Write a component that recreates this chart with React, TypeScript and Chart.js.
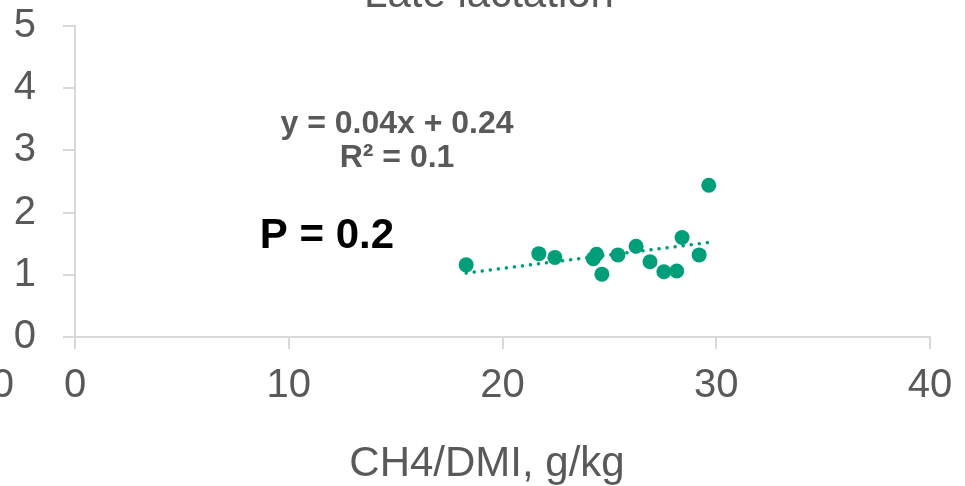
import React, { useEffect, useRef } from "react";
import { Chart, registerables } from "chart.js";

Chart.register(...registerables);

const xValues = [18.3, 21.7, 22.45, 24.25, 24.4, 24.65, 25.4, 26.25, 26.9, 27.55, 28.15, 28.4, 29.2, 29.65];
const yValues = [1.16, 1.34, 1.28, 1.26, 1.33, 1.01, 1.32, 1.46, 1.21, 1.05, 1.06, 1.60, 1.32, 2.44];
const trendX = [18.3, 29.65];
const trendY = [1.03, 1.52];
const xTicks = [0, 10, 20, 30, 40];
const yTicks = [0, 1, 2, 3, 4, 5];

const titleText = "Late lactation";
const xTitleText = "CH4/DMI, g/kg";
const equationText = "y = 0.04x + 0.24";
const r2Text = "R\u00B2 = 0.1";
const pText = "P = 0.2";
const strayText = "0";

const FONT = "'Liberation Sans', Arial, sans-serif";
const GRAY = "#595959";
const AXIS = "#D9D9D9";
const GREEN = "#009E79";

export default function App() {
  const ref = useRef<HTMLCanvasElement | null>(null);

  useEffect(() => {
    if (!ref.current) return;
    const textPlugin = {
      id: "texts",
      afterDraw(chart: any) {
        const ctx = chart.ctx;
        ctx.save();
        ctx.fillStyle = GRAY;
        ctx.textBaseline = "alphabetic";
        ctx.textAlign = "center";
        ctx.font = `42px ${FONT}`;
        ctx.fillText(titleText, 489, 7);
        ctx.font = `42px ${FONT}`;
        ctx.fillText(xTitleText, 487, 476);
        ctx.textAlign = "right";
        ctx.font = `40px ${FONT}`;
        ctx.textBaseline = "middle";
        ctx.fillText(strayText, 14, 386);
        ctx.textAlign = "center";
        ctx.font = `bold 32px ${FONT}`;
        ctx.fillText(equationText, 397, 124);
        ctx.fillText(r2Text, 397, 158);
        ctx.fillStyle = "#000000";
        ctx.font = `bold 42px ${FONT}`;
        ctx.fillText(pText, 327, 236);
        ctx.restore();
      },
    };

    const chart = new Chart(ref.current, {
      type: "scatter",
      data: {
        datasets: [
          {
            type: "scatter",
            data: xValues.map((x, i) => ({ x, y: yValues[i] })),
            backgroundColor: GREEN,
            borderWidth: 0,
            pointRadius: 7.5,
            order: 1,
          },
          {
            type: "line",
            data: trendX.map((x, i) => ({ x, y: trendY[i] })),
            borderColor: GREEN,
            borderWidth: 3.5,
            borderDash: [0.1, 8],
            borderCapStyle: "round",
            pointRadius: 0,
            fill: false,
            order: 2,
          } as any,
        ],
      },
      options: {
        responsive: false,
        animation: false,
        layout: { padding: { top: 26, right: 35, left: 0, bottom: 0 } },
        plugins: { legend: { display: false }, tooltip: { enabled: false }, title: { display: false } },
        scales: {
          x: {
            type: "linear",
            min: 0,
            max: 40,
            afterFit: (s: any) => { s.height = 149; s.paddingLeft = 0; s.paddingRight = 0; },
            afterBuildTicks: (s: any) => { s.ticks = xTicks.map((v) => ({ value: v })); },
            ticks: { color: GRAY, font: { family: FONT, size: 40 }, padding: 13, maxRotation: 0 },
            grid: { display: true, drawOnChartArea: false, drawTicks: true, tickLength: 12, color: AXIS, lineWidth: 2 },
            border: { display: true, color: AXIS, width: 2 },
          },
          y: {
            type: "linear",
            min: 0,
            max: 5,
            afterFit: (s: any) => { s.width = 75; s.paddingTop = 0; s.paddingBottom = 0; },
            afterBuildTicks: (s: any) => { s.ticks = yTicks.map((v) => ({ value: v })); },
            ticks: { color: GRAY, font: { family: FONT, size: 40 }, padding: 27 },
            grid: { display: true, drawOnChartArea: false, drawTicks: true, tickLength: 12, color: AXIS, lineWidth: 2 },
            border: { display: true, color: AXIS, width: 2 },
          },
        },
      },
      plugins: [textPlugin],
    });
    return () => chart.destroy();
  }, []);

  return (
    <div style={{ position: "fixed", left: 0, top: 0, width: 965, height: 486, background: "#fff" }}>
      <canvas ref={ref} width={965} height={486} style={{ width: 965, height: 486, display: "block" }} />
    </div>
  );
}
